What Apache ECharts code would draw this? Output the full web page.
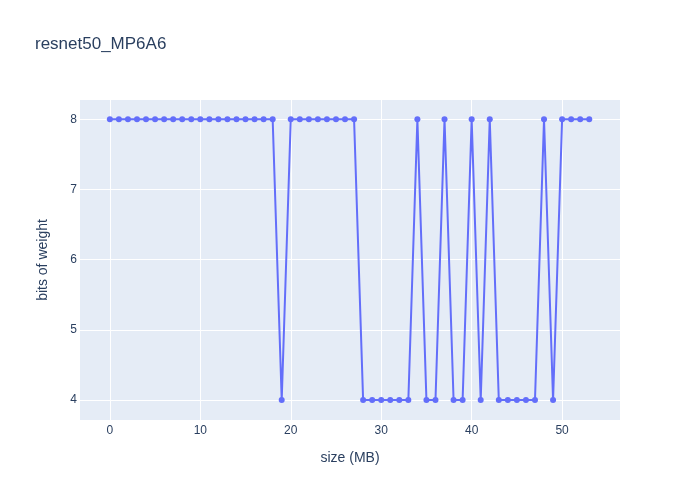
<!DOCTYPE html>
<html><head><meta charset="utf-8">
<script src="https://cdn.jsdelivr.net/npm/echarts@6/dist/echarts.min.js"></script>
<style>html,body{margin:0;padding:0;background:#fff}#c{width:700px;height:500px}</style>
</head><body><div id="c"></div>
<script>
const xValues = [0,1,2,3,4,5,6,7,8,9,10,11,12,13,14,15,16,17,18,19,20,21,22,23,24,25,26,27,28,29,30,31,32,33,34,35,36,37,38,39,40,41,42,43,44,45,46,47,48,49,50,51,52,53];
const bits = [8,8,8,8,8,8,8,8,8,8,8,8,8,8,8,8,8,8,8,4,8,8,8,8,8,8,8,8,4,4,4,4,4,4,8,4,4,8,4,4,8,4,8,4,4,4,4,4,8,4,8,8,8,8];
const xTicks = [0,10,20,30,40,50];
const yTicks = [4,5,6,7,8];
const titleText = 'resnet50_MP6A6';
const xName = 'size (MB)';
const yName = 'bits of weight';

const chart = echarts.init(document.getElementById('c'), null, {renderer:'canvas'});
const font = '"Liberation Sans", Arial, sans-serif';
chart.setOption({
  animation:false,
  backgroundColor:'#fff',
  title:{text:titleText,left:30,top:31,textStyle:{fontFamily:font,fontSize:17,fontWeight:'normal',color:'#2a3f5f'}},
  grid:{left:80,right:80,top:100,bottom:80,show:true,backgroundColor:'#E5ECF6',borderWidth:0},
  xAxis:{type:'value',min:-3.3,max:56.4,
    name:xName,nameLocation:'middle',nameGap:31,nameTextStyle:{fontFamily:font,fontSize:14,color:'#2a3f5f'},
    axisLine:{show:false},
    axisTick:{show:false,customValues:xTicks},
    axisLabel:{customValues:xTicks,fontFamily:font,fontSize:12,color:'#2a3f5f',margin:5},
    splitLine:{show:true,lineStyle:{color:'#fff',width:1}}},
  yAxis:{type:'value',min:3.715,max:8.275,
    name:yName,nameLocation:'middle',nameGap:30,nameTextStyle:{fontFamily:font,fontSize:14,color:'#2a3f5f'},
    axisLine:{show:false},
    axisTick:{show:false,customValues:yTicks},
    axisLabel:{customValues:yTicks,fontFamily:font,fontSize:12,color:'#2a3f5f',margin:3},
    splitLine:{show:true,lineStyle:{color:'#fff',width:1}}},
  series:[{type:'line',data:xValues.map((x,i)=>[x,bits[i]]),
    symbol:'circle',symbolSize:6,showSymbol:true,
    lineStyle:{color:'#636efa',width:2},itemStyle:{color:'#636efa'}}]
});
</script></body></html>
